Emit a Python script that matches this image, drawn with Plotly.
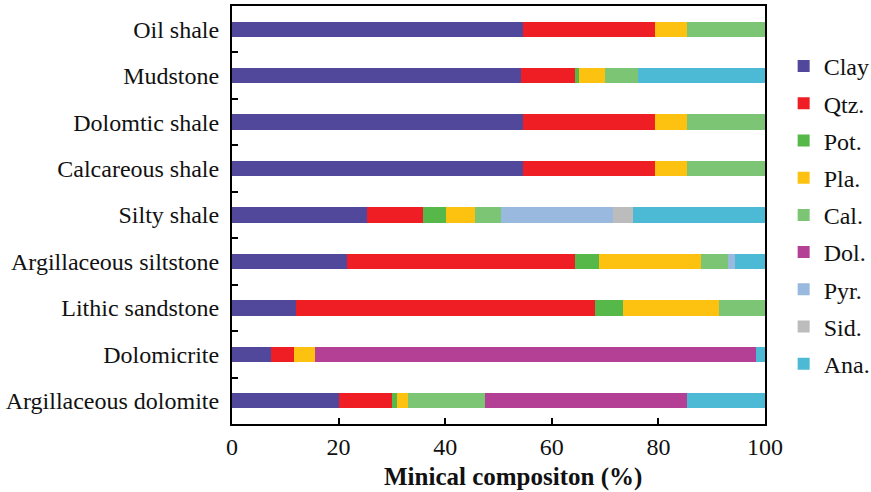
import plotly.graph_objects as go

# Rock types, listed top to bottom
rock_types = [
    "Oil shale",
    "Mudstone",
    "Dolomtic shale",
    "Calcareous shale",
    "Silty shale",
    "Argillaceous siltstone",
    "Lithic sandstone",
    "Dolomicrite",
    "Argillaceous dolomite",
]

# Mineral content (%) per rock type, same order as rock_types
clay = [54.6, 54.3, 54.6, 54.6, 25.3, 21.5, 12.1, 7.3, 20.0]
qtz = [24.8, 10.0, 24.8, 24.8, 10.6, 42.8, 56.0, 4.3, 10.1]
pot = [0.0, 0.8, 0.0, 0.0, 4.3, 4.6, 5.3, 0.0, 0.9]
pla = [5.9, 4.8, 5.9, 5.9, 5.3, 19.1, 18.0, 3.9, 2.0]
cal = [14.7, 6.3, 14.7, 14.7, 4.9, 5.1, 8.6, 0.0, 14.4]
dol = [0.0, 0.0, 0.0, 0.0, 0.0, 0.0, 0.0, 82.9, 37.9]
pyr = [0.0, 0.0, 0.0, 0.0, 21.0, 1.3, 0.0, 0.0, 0.0]
sid = [0.0, 0.0, 0.0, 0.0, 3.8, 0.0, 0.0, 0.0, 0.0]
ana = [0.0, 23.8, 0.0, 0.0, 24.8, 5.6, 0.0, 1.6, 14.7]

mineral_names = ["Clay", "Qtz.", "Pot.", "Pla.", "Cal.", "Dol.", "Pyr.", "Sid.", "Ana."]
mineral_values = [clay, qtz, pot, pla, cal, dol, pyr, sid, ana]
mineral_colors = ["#51479b", "#ee1e24", "#55b848", "#fdc20f", "#7bc574",
                  "#b44095", "#99b9df", "#bcbcbc", "#4cbad4"]

x_ticks = [0, 20, 40, 60, 80, 100]
x_title = "Minical compositon (%)"

FONT = "Liberation Serif, Times New Roman, serif"
SIZE = 24

fig = go.Figure()
for i, (name, vals, color) in enumerate(zip(mineral_names, mineral_values, mineral_colors)):
    fig.add_trace(go.Bar(
        y=rock_types,
        x=vals,
        name=name,
        orientation="h",
        marker=dict(color=color, line=dict(width=0)),
        width=0.33,
        legendgroup=f"g{i}",
    ))

# x-axis title drawn as an annotation so it can sit slightly right of centre
fig.add_annotation(
    text=f"<b>{x_title}</b>",
    xref="paper", yref="paper",
    x=0.527, y=-0.127,
    xanchor="center", yanchor="middle",
    showarrow=False,
    font=dict(family=FONT, size=25, color="#111111"),
)

fig.update_layout(
    barmode="stack",
    width=871,
    height=492,
    margin=dict(l=232, r=106, t=6, b=68, autoexpand=False),
    paper_bgcolor="white",
    plot_bgcolor="white",
    font=dict(family=FONT, size=SIZE, color="#111111"),
    showlegend=True,
    legend=dict(
        x=1.035, xanchor="left", xref="paper",
        y=0.5, yanchor="middle",
        traceorder="grouped",
        tracegroupgap=3,
        font=dict(family=FONT, size=SIZE, color="#111111"),
        itemwidth=30,
        bgcolor="rgba(0,0,0,0)",
    ),
    xaxis=dict(
        range=[0, 100],
        tickvals=x_ticks,
        ticktext=[str(v) for v in x_ticks],
        ticks="inside",
        ticklen=6,
        tickwidth=2,
        tickcolor="black",
        showline=True,
        linecolor="black",
        linewidth=2,
        mirror=True,
        showgrid=False,
        zeroline=False,
        tickfont=dict(family=FONT, size=SIZE),
    ),
    yaxis=dict(
        type="category",
        categoryorder="array",
        categoryarray=rock_types,
        autorange="reversed",
        ticks="inside",
        tickson="boundaries",
        ticklen=6,
        tickwidth=2,
        tickcolor="black",
        showline=True,
        linecolor="black",
        linewidth=2,
        mirror=True,
        showgrid=False,
        zeroline=False,
        tickfont=dict(family=FONT, size=SIZE),
        ticklabelstandoff=6,
    ),
)

fig.write_html("out.html")
